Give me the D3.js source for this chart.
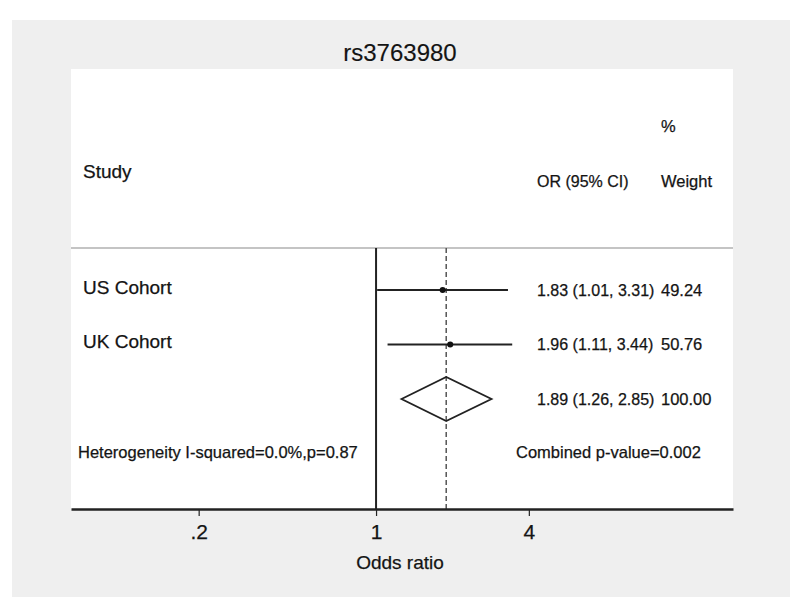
<!DOCTYPE html>
<html lang="en">
<head>
    <meta charset="UTF-8">
    <title>rs3763980 forest plot</title>
    <script src="https://d3js.org/d3.v7.min.js"></script>
    <style>
        body {
            margin: 0;
            background: #ffffff;
            font-family: "Liberation Sans", Arial, sans-serif;
        }
        svg text {
            fill: #141414;
            stroke: #141414;
            stroke-width: 0.25px;
        }
    </style>
</head>
<body>
    <div id="chart"></div>

    <script>
        // Data
        const studies = ['US Cohort', 'UK Cohort'];
        const oddsRatios = [1.83, 1.96];
        const lowerCI = [1.01, 1.11];
        const upperCI = [3.31, 3.44];
        const weights = [49.24, 50.76];
        const pooled = [1.89, 1.26, 2.85]; // OR, lower, upper
        const pooledWeight = 100.00;
        const tickValues = [0.2, 1, 4];
        const tickLabels = ['.2', '1', '4'];
        const heterogeneityText = 'Heterogeneity I-squared=0.0%,p=0.87';
        const combinedText = 'Combined p-value=0.002';

        const width = 800;
        const height = 608;
        const plot = { left: 71, right: 733, top: 69, bottom: 509 };
        const headerY = 248;

        const svg = d3.select('#chart')
            .append('svg')
            .attr('width', width)
            .attr('height', height);

        // Outer grey panel and white plot area
        svg.append('rect')
            .attr('x', 12).attr('y', 20)
            .attr('width', 778).attr('height', 577)
            .attr('fill', '#efefef');

        svg.append('rect')
            .attr('x', plot.left).attr('y', plot.top)
            .attr('width', plot.right - plot.left)
            .attr('height', plot.bottom - plot.top)
            .attr('fill', '#ffffff');

        // Log scale for odds ratio
        const x = d3.scaleLog()
            .domain([0.0628, 25.5])
            .range([plot.left, plot.right]);

        const rows = studies.concat(['Overall']);
        const y = d3.scalePoint()
            .domain(rows)
            .range([290, 399]);

        const fmt = d3.format('.2f');

        // Title
        svg.append('text')
            .attr('x', 400).attr('y', 61)
            .attr('text-anchor', 'middle')
            .style('font-size', '24px')
            .style('stroke-width', '0.15px')
            .text('rs3763980');

        // Header
        svg.append('text')
            .attr('x', 83).attr('y', 178)
            .style('font-size', '19px')
            .text('Study');

        svg.append('text')
            .attr('x', 537).attr('y', 187)
            .style('font-size', '16px')
            .text('OR (95% CI)');

        svg.append('text')
            .attr('x', 661).attr('y', 132)
            .style('font-size', '16.5px')
            .text('%');

        svg.append('text')
            .attr('x', 661).attr('y', 187)
            .style('font-size', '16.5px')
            .text('Weight');

        svg.append('line')
            .attr('x1', plot.left).attr('x2', plot.right)
            .attr('y1', headerY).attr('y2', headerY)
            .attr('stroke', '#c4c4c4')
            .attr('stroke-width', 2);

        // Null line and pooled estimate line
        svg.append('line')
            .attr('x1', x(1)).attr('x2', x(1))
            .attr('y1', headerY).attr('y2', plot.bottom)
            .attr('stroke', '#222')
            .attr('stroke-width', 2);

        svg.append('line')
            .attr('x1', x(pooled[0])).attr('x2', x(pooled[0]))
            .attr('y1', headerY).attr('y2', plot.bottom)
            .attr('stroke', '#555')
            .attr('stroke-width', 1.5)
            .attr('stroke-dasharray', '5,3');

        // Study rows
        const studyData = studies.map((s, i) => ({
            name: s,
            or: oddsRatios[i],
            lo: lowerCI[i],
            hi: upperCI[i],
            w: weights[i]
        }));

        const row = svg.append('g')
            .selectAll('g')
            .data(studyData)
            .join('g');

        row.append('line')
            .attr('x1', d => x(d.lo))
            .attr('x2', d => x(d.hi))
            .attr('y1', d => y(d.name))
            .attr('y2', d => y(d.name))
            .attr('stroke', '#222')
            .attr('stroke-width', 1.8);

        row.append('circle')
            .attr('cx', d => x(d.or))
            .attr('cy', d => y(d.name))
            .attr('r', d => 0.43 * Math.sqrt(d.w))
            .attr('fill', '#111');

        row.append('text')
            .attr('x', 83)
            .attr('y', d => y(d.name) - 3)
            .attr('dy', '0.35em')
            .style('font-size', '19px')
            .text(d => d.name);

        row.append('text')
            .attr('x', 537)
            .attr('y', d => y(d.name))
            .attr('dy', '0.35em')
            .style('font-size', '16px')
            .text(d => `${fmt(d.or)} (${fmt(d.lo)}, ${fmt(d.hi)})`);

        row.append('text')
            .attr('x', 661)
            .attr('y', d => y(d.name))
            .attr('dy', '0.35em')
            .style('font-size', '16.5px')
            .text(d => fmt(d.w));

        // Pooled diamond
        const yd = y('Overall');
        const half = 22;
        svg.append('path')
            .attr('d', `M${x(pooled[1])},${yd} L${x(pooled[0])},${yd - half} L${x(pooled[2])},${yd} L${x(pooled[0])},${yd + half} Z`)
            .attr('fill', 'none')
            .attr('stroke', '#222')
            .attr('stroke-width', 1.8);

        svg.append('text')
            .attr('x', 537).attr('y', yd)
            .attr('dy', '0.35em')
            .style('font-size', '16px')
            .text(`${fmt(pooled[0])} (${fmt(pooled[1])}, ${fmt(pooled[2])})`);

        svg.append('text')
            .attr('x', 661).attr('y', yd)
            .attr('dy', '0.35em')
            .style('font-size', '16.5px')
            .text(fmt(pooledWeight));

        // Footer notes
        svg.append('text')
            .attr('x', 78).attr('y', 452)
            .attr('dy', '0.35em')
            .style('font-size', '16.5px')
            .text(heterogeneityText);

        svg.append('text')
            .attr('x', 516).attr('y', 452)
            .attr('dy', '0.35em')
            .style('font-size', '16.5px')
            .text(combinedText);

        // X axis
        const xAxis = d3.axisBottom(x)
            .tickValues(tickValues)
            .tickFormat((d, i) => tickLabels[i])
            .tickSize(7)
            .tickSizeOuter(0)
            .tickPadding(8);

        const axisG = svg.append('g')
            .attr('transform', `translate(0,${plot.bottom})`)
            .call(xAxis);

        axisG.select('.domain')
            .attr('stroke', '#222')
            .attr('stroke-width', 2.5);

        axisG.selectAll('.tick line')
            .attr('stroke', '#222')
            .attr('stroke-width', 1.2);

        axisG.selectAll('.tick text')
            .attr('fill', '#141414')
            .style('font-family', '"Liberation Sans", Arial, sans-serif')
            .style('font-size', '21px');

        svg.append('text')
            .attr('x', 400).attr('y', 569)
            .attr('text-anchor', 'middle')
            .style('font-size', '19px')
            .text('Odds ratio');
    </script>
</body>
</html>
